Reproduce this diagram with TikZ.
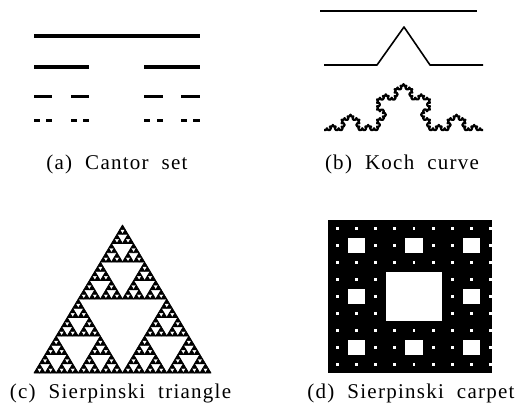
\documentclass[tikz,border=0pt]{standalone}
\usepackage{fontspec}
\newfontfamily\labfont[LetterSpace=6,WordSpace=2]{Liberation Serif}
\usetikzlibrary{decorations.fractals}
\begin{document}
\begin{tikzpicture}[x=1pt,y=-1pt,
  lab/.style={font={\labfont\fontsize{21}{24}\selectfont}, inner sep=0pt, anchor=base},
  ink/.style={line width=#1, line cap=butt, line join=round}]
\useasboundingbox (0,0) rectangle (520,417);
% ---------- (a) Cantor set ----------
\fill (34,33.6) rectangle (199.5,38.4);
\foreach \a in {0,2}{\fill ({34+\a*55.17},64.7) rectangle ++(55.17,4);}
\foreach \a in {0,2}{\foreach \b in {0,2}{\fill ({34+\a*55.17+\b*18.39},95.1) rectangle ++(18.39,3.4);}}
\foreach \a in {0,2}{\foreach \b in {0,2}{\foreach \c in {0,2}{\fill ({34+\a*55.17+\b*18.39+\c*6.13},118.6) rectangle ++(6.13,3);}}}
% ---------- (b) Koch curve ----------
\coordinate (k1a) at (320,11);
\coordinate (k1b) at (477,11);
\draw[ink=1.6pt] (k1a) -- (k1b);
\coordinate (k2a) at (324,65);
\coordinate (k2b) at (377,65);
\coordinate (k2c) at (404,27);
\coordinate (k2d) at (430,65);
\coordinate (k2e) at (483,65);
\draw[ink=1.6pt] (k2a) -- (k2b) -- (k2c) -- (k2d) -- (k2e);
\coordinate (k3a) at (324,130);
\coordinate (k3b) at (483,130);
\draw[ink=2.2pt, decoration=Koch snowflake]
  decorate{decorate{decorate{decorate{(k3a) -- (k3b)}}}};
% ---------- (c) Sierpinski triangle ----------
\foreach \ax/\ay in {0/0,1/0,0.5/1}{
 \foreach \bx/\by in {0/0,1/0,0.5/1}{
  \foreach \cx/\cy in {0/0,1/0,0.5/1}{
   \foreach \dx/\dy in {0/0,1/0,0.5/1}{
    \foreach \ex/\ey in {0/0,1/0,0.5/1}{
     \filldraw[line width=0.7pt, line join=round]
      ({34+177*(\ax/2+\bx/4+\cx/8+\dx/16+\ex/32)},{373-148*(\ay/2+\by/4+\cy/8+\dy/16+\ey/32)})
      -- ++(5.53,0) -- ++(-2.766,-4.625) -- cycle;
    }}}}}
% ---------- (d) Sierpinski carpet ----------
\fill (328,220) rectangle (492,373);
\begin{scope}
\clip (328,220) rectangle (492,373);
\foreach \i in {0,...,8}{\foreach \j in {0,...,8}{
  \fill[white] ({327.5+19.2*\i+9.6-1.4},{220+17*\j+8.5-1.4}) rectangle ++(2.8,2.8);}}
\foreach \i/\j in {1/1,4/1,7/1,1/4,7/4,1/7,4/7,7/7}{
  \fill[white] ({327.5+19.2*\i+1},{220+17*\j+1}) rectangle ++(17.2,15);}
\fill[white] ({327.5+19.2*3+1},{220+17*3+1}) rectangle ({327.5+19.2*6-1},{220+17*6-1});
\end{scope}
% ---------- labels ----------
\node[lab] (la) at (117,170) {(a) Cantor set};
\node[lab] (lb) at (402,170) {(b) Koch curve};
\node[lab] (lc) at (120.5,398) {(c) Sierpinski triangle};
\node[lab] (ld) at (411,398) {(d) Sierpinski carpet};
\end{tikzpicture}
\end{document}
